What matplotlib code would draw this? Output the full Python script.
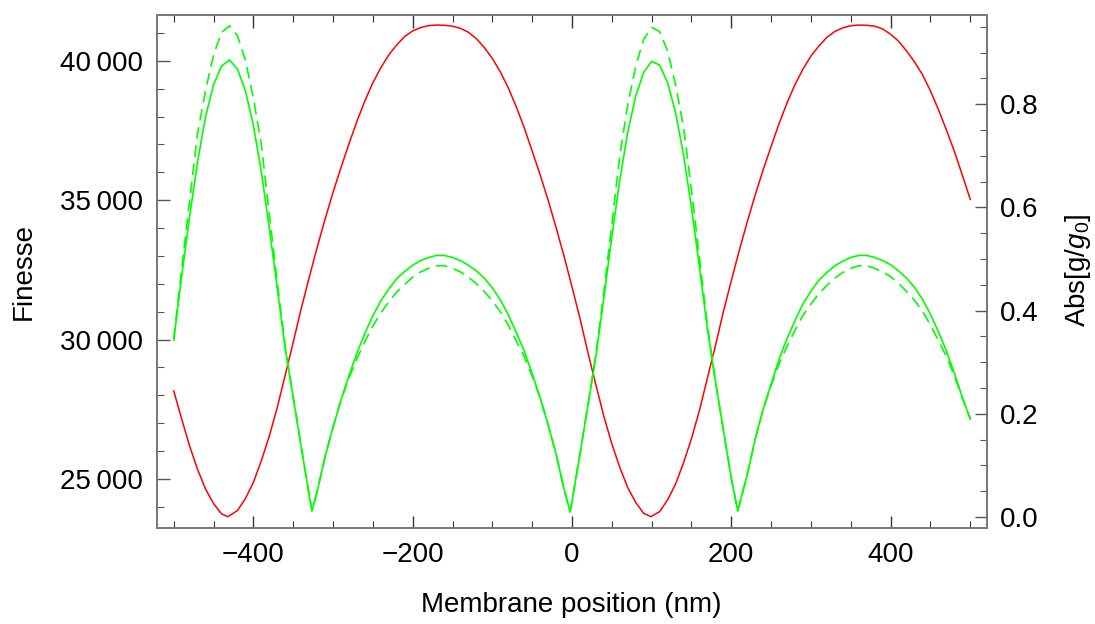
import numpy as np
import matplotlib
matplotlib.use("Agg")
import matplotlib.pyplot as plt
from matplotlib.ticker import MultipleLocator, FuncFormatter

plt.rcParams['font.family'] = ['Liberation Sans', 'DejaVu Sans']
plt.rcParams['mathtext.fontset'] = 'custom'
plt.rcParams['mathtext.rm'] = 'Liberation Sans'
plt.rcParams['mathtext.it'] = 'Liberation Sans:italic'

# finesse (red), every 10 nm (plus the two minima)
x_fin = [-500, -490, -480, -470, -460, -450, -440, -432, -420, -410, -400,
         -390, -380, -370, -360, -350, -340, -330, -320, -310, -300,
         -290, -280, -270, -260, -250, -240, -230, -220, -210, -200,
         -190, -180, -170, -160, -150, -140, -130, -120, -110, -100,
         -90, -80, -70, -60, -50, -40, -30, -20, -10, 0,
         10, 20, 30, 40, 50, 60, 70, 80, 90, 99,
         110, 120, 130, 140, 150, 160, 170, 180, 190, 200,
         210, 220, 230, 240, 250, 260, 270, 280, 290, 300,
         310, 320, 330, 340, 350, 360, 370, 380, 390, 400,
         410, 420, 430, 440, 450, 460, 470, 480, 490, 500]
finesse = [28160, 27150, 26180, 25340, 24640, 24120, 23750, 23650, 23870, 24300, 24880,
           25660, 26540, 27570, 28730, 29900, 31110, 32220, 33300, 34320, 35280,
           36170, 37020, 37830, 38560, 39210, 39750, 40210, 40570, 40870, 41070,
           41190, 41260, 41280, 41270, 41240, 41160, 41020, 40790, 40470, 40080,
           39600, 39030, 38350, 37600, 36760, 35910, 35000, 34020, 32990, 31890,
           30760, 29530, 28380, 27250, 26260, 25420, 24690, 24160, 23770, 23650,
           23830, 24250, 24820, 25580, 26450, 27460, 28620, 29770, 31000, 32110,
           33200, 34220, 35190, 36090, 36930, 37750, 38490, 39150, 39700, 40170,
           40530, 40840, 41050, 41180, 41255, 41280, 41270, 41240, 41140, 40950,
           40700, 40350, 39960, 39500, 38920, 38250, 37520, 36750, 35900, 35030]

# |g/g0| (green), solid and dashed
x_g = [-500, -490, -480, -470, -460, -450, -440, -430, -420, -410, -400,
       -390, -380, -370, -360, -350, -340, -330, -326.5, -320, -310, -300,
       -290, -280, -270, -260, -250, -240, -230, -220, -210, -200,
       -190, -180, -170, -160, -150, -140, -130, -120, -110, -100,
       -90, -80, -70, -60, -50, -40, -30, -20, -10, -2.4, 0,
       10, 20, 30, 40, 50, 60, 70, 80, 90, 100,
       110, 120, 130, 140, 150, 160, 170, 180, 190, 200, 208, 210,
       220, 230, 240, 250, 260, 270, 280, 290, 300, 310,
       320, 330, 340, 350, 360, 370, 380, 390, 400, 410,
       420, 430, 440, 450, 460, 470, 480, 490, 500]
g_solid = [0.343, 0.467, 0.583, 0.689, 0.776, 0.838, 0.874, 0.886, 0.868, 0.826, 0.759,
           0.669, 0.560, 0.443, 0.326, 0.231, 0.136, 0.043, 0.012, 0.049, 0.117, 0.174,
           0.227, 0.274, 0.318, 0.356, 0.390, 0.419, 0.442, 0.462, 0.476, 0.488,
           0.497, 0.503, 0.507, 0.507, 0.503, 0.497, 0.488, 0.477, 0.463, 0.444,
           0.421, 0.392, 0.358, 0.322, 0.278, 0.231, 0.179, 0.122, 0.054, 0.010, 0.030,
           0.122, 0.216, 0.311, 0.425, 0.543, 0.653, 0.746, 0.816, 0.862, 0.883,
           0.876, 0.842, 0.784, 0.702, 0.599, 0.484, 0.365, 0.264, 0.169, 0.075, 0.012, 0.023,
           0.082, 0.151, 0.209, 0.258, 0.306, 0.346, 0.381, 0.413, 0.438, 0.459,
           0.474, 0.487, 0.496, 0.503, 0.507, 0.507, 0.503, 0.497, 0.489, 0.477,
           0.463, 0.445, 0.422, 0.393, 0.359, 0.322, 0.279, 0.232, 0.190]
g_dashed = [0.345, 0.481, 0.614, 0.744, 0.827, 0.896, 0.939, 0.952, 0.933, 0.885, 0.812,
            0.722, 0.587, 0.455, 0.330, 0.233, 0.137, 0.043, 0.012, 0.049, 0.117, 0.174,
            0.227, 0.269, 0.307, 0.340, 0.370, 0.396, 0.417, 0.436, 0.451, 0.465,
            0.475, 0.482, 0.487, 0.487, 0.482, 0.475, 0.465, 0.452, 0.437, 0.419,
            0.398, 0.372, 0.341, 0.311, 0.273, 0.231, 0.179, 0.122, 0.054, 0.010, 0.030,
            0.122, 0.217, 0.316, 0.436, 0.567, 0.701, 0.799, 0.874, 0.926, 0.949,
            0.941, 0.903, 0.838, 0.756, 0.634, 0.501, 0.372, 0.264, 0.169, 0.075, 0.012, 0.023,
            0.082, 0.151, 0.209, 0.255, 0.297, 0.331, 0.362, 0.391, 0.413, 0.433,
            0.449, 0.463, 0.474, 0.482, 0.487, 0.487, 0.482, 0.475, 0.466, 0.453,
            0.437, 0.420, 0.399, 0.372, 0.342, 0.311, 0.274, 0.231, 0.190]

x_ticks = [-400, -200, 0, 200, 400]
fin_ticks = [25000, 30000, 35000, 40000]
g_ticks = [0.0, 0.2, 0.4, 0.6, 0.8]

fig = plt.figure(figsize=(10.95, 6.24), dpi=100)
ax = fig.add_axes([157 / 1095, 1 - 528 / 624, 830 / 1095, 513 / 624])
ax2 = ax.twinx()

ax.plot(x_fin, finesse, color=(1, 0, 0), lw=1.1)
ax2.plot(x_g, g_solid, color=(0, 1, 0), lw=1.2)
ax2.plot(x_g, g_dashed, color=(0, 1, 0), lw=1.2, dashes=(7, 4))

ax.set_xlim(-521, 521)
ax.set_ylim(23244, 41640)
ax2.set_ylim(-0.0213, 0.973)

ax.set_xticks(x_ticks)
ax.xaxis.set_minor_locator(MultipleLocator(50))
ax.set_yticks(fin_ticks)
ax.yaxis.set_minor_locator(MultipleLocator(1000))
ax.yaxis.set_major_formatter(FuncFormatter(
    lambda v, p: f"{int(v) // 1000}\u2009{int(v) % 1000:03d}"))
ax.xaxis.set_major_formatter(FuncFormatter(
    lambda v, p: f"{int(v)}".replace('-', '\u2212')))
ax2.set_yticks(g_ticks)
ax2.yaxis.set_minor_locator(MultipleLocator(0.05))
ax2.yaxis.set_major_formatter(FuncFormatter(lambda v, p: f"{v:.1f}"))

edge = '#777777'
for a in (ax, ax2):
    for s in a.spines.values():
        s.set_color(edge)
        s.set_linewidth(1.2)

fs = 20
ax.tick_params(axis='x', which='both', direction='in', top=True, bottom=True,
               color='#333333', labelsize=fs, pad=10)
ax.tick_params(axis='x', which='major', length=9, width=1)
ax.tick_params(axis='x', which='minor', length=5, width=0.8)
ax.tick_params(axis='y', which='both', direction='in', left=True, right=False,
               color='#555555', labelsize=fs, pad=10)
ax.tick_params(axis='y', which='major', length=9, width=1)
ax.tick_params(axis='y', which='minor', length=5, width=0.8)
ax2.tick_params(axis='y', which='both', direction='in', right=True, left=False,
                color='#555555', labelsize=fs, pad=9)
ax2.tick_params(axis='y', which='major', length=9, width=1)
ax2.tick_params(axis='y', which='minor', length=5, width=0.8)

fig.text(24 / 1095, 1 - 271 / 624, 'Finesse', rotation=90, fontsize=fs,
         ha='center', va='center')
fig.text(1078 / 1095, 1 - 270 / 624, r'Abs[g/$g_0$]', rotation=90, fontsize=fs,
         ha='center', va='center')
fig.text(571 / 1095, 1 - 605 / 624, 'Membrane position (nm)', fontsize=fs,
         ha='center', va='center')

fig.savefig('out.png', dpi=100)
